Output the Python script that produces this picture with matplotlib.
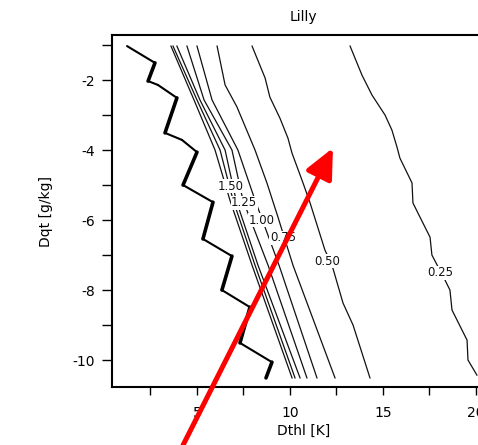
import matplotlib
matplotlib.use('Agg')
import matplotlib.pyplot as plt
from matplotlib.ticker import MultipleLocator

plt.rcParams['axes.unicode_minus'] = False
plt.rcParams['font.family'] = 'DejaVu Sans'

# contour lines (Dthl [K], Dqt [g/kg])
y6 = [-1.03, -2.57, -4.00, -5.43, -7.29, -10.51]
c200_x = [3.60, 4.84, 5.97, 6.77, 7.96, 10.11]
c175_x = [3.71, 5.00, 6.24, 6.94, 8.12, 10.27]
c150_x = [3.92, 5.16, 6.51, 7.10, 8.28, 10.54]
c125_x = [4.46, 5.38, 6.88, 7.47, 8.82, 10.91]
c100_x = [5.00, 5.81, 7.20, 8.12, 9.41, 11.45]
c075_x = [6.08, 6.51, 7.15, 8.12, 8.76, 9.35, 10.16, 12.42]
c075_y = [-1.03, -2.14, -2.77, -4.00, -4.94, -5.91, -7.29, -10.51]
c050_x = [7.96, 8.66, 8.92, 9.46, 9.89, 10.11, 10.70, 11.08, 11.88, 12.26,
          12.85, 13.39, 14.30]
c050_y = [-1.03, -1.94, -2.49, -3.09, -3.66, -4.09, -4.94, -5.51, -6.86, -7.29,
          -8.37, -9.00, -10.51]
c025_x = [13.23, 13.87, 14.41, 15.11, 15.48, 15.75, 15.91, 16.56, 16.61, 16.88,
          17.53, 17.63, 18.33, 18.60, 18.71, 19.52, 19.57, 20.05]
c025_y = [-1.03, -1.86, -2.43, -3.00, -3.43, -3.91, -4.23, -4.94, -5.51, -5.80,
          -6.49, -7.00, -7.71, -8.00, -8.57, -9.43, -10.00, -10.43]

# contour labels
lab_text = ['1.50', '1.25', '1.00', '0.75', '0.50', '0.25']
lab_x = [6.83, 7.53, 8.49, 9.62, 11.99, 18.06]
lab_y = [-5.03, -5.51, -6.00, -6.51, -7.17, -7.51]

# thick zigzag line
zig_x = [1.24, 2.74, 2.37, 2.90, 3.92, 3.28, 4.19, 5.00, 4.25, 5.86, 5.32,
         6.88, 6.34, 7.85, 7.31, 9.03, 8.71]
zig_y = [-1.03, -1.51, -2.03, -2.14, -2.51, -3.51, -3.71, -4.06, -5.00, -5.49,
         -6.54, -7.03, -8.00, -8.49, -9.51, -10.06, -10.51]

# red arrow (tail, tip)
arrow_tail = (4.25, -12.43)
arrow_tip = (12.31, -3.94)

fig = plt.figure(figsize=(4.78, 4.45), dpi=100)
ax = fig.add_axes([0.2343, 0.1303, 0.8004, 0.7910])

lines = [(c200_x, y6), (c175_x, y6), (c150_x, y6), (c125_x, y6), (c100_x, y6),
         (c075_x, c075_y), (c050_x, c050_y), (c025_x, c025_y)]
for lx, ly in lines:
    ax.plot(lx, ly, color='#111111', lw=0.9)

for t, x, y in zip(lab_text, lab_x, lab_y):
    ax.text(x, y, t, fontsize=8.5, ha='center', va='center', color='#111111',
            bbox=dict(facecolor='white', edgecolor='none', pad=0.3))

for i in range(len(zig_x) - 1):
    w = 2.6 if zig_x[i + 1] < zig_x[i] else 1.5
    ax.plot(zig_x[i:i + 2], zig_y[i:i + 2], color='black', lw=w,
            solid_capstyle='round')

ax.annotate('', xy=arrow_tip, xytext=arrow_tail, xycoords='data',
            annotation_clip=False,
            arrowprops=dict(arrowstyle='-|>,head_length=0.9,head_width=0.42',
                            mutation_scale=20, lw=3.6, color='red',
                            shrinkA=0, shrinkB=0))

ax.set_xlim(0.43, 21)
ax.set_ylim(-10.77, -0.714)
ax.xaxis.set_major_locator(MultipleLocator(5))
ax.xaxis.set_minor_locator(MultipleLocator(2.5))
ax.yaxis.set_major_locator(MultipleLocator(2))
ax.yaxis.set_minor_locator(MultipleLocator(2, offset=1))
ax.tick_params(axis='x', which='both', direction='out', length=5.5, width=1,
               pad=8, labelsize=10)
ax.tick_params(axis='y', which='both', direction='out', length=7, width=1,
               pad=5, labelsize=10)
ax.spines['right'].set_visible(False)
for s in ['left', 'bottom', 'top']:
    ax.spines[s].set_linewidth(1.5)

ax.set_xlabel('Dthl [K]', fontsize=10, labelpad=3)
ax.set_ylabel('Dqt [g/kg]', fontsize=10, labelpad=14)
ax.set_title('Lilly', fontsize=10, pad=10)

fig.savefig('out.png', dpi=100)
